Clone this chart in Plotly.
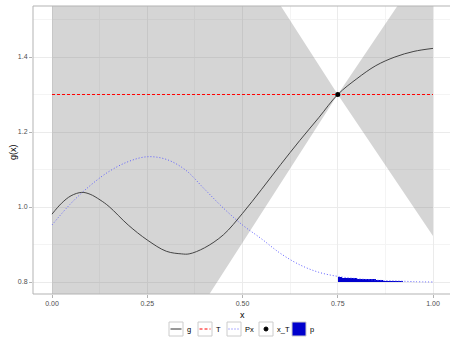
import plotly.graph_objects as go

# ---- data ----
g_x = [0.0, 0.025, 0.05, 0.078, 0.10, 0.126, 0.15, 0.20, 0.25, 0.30, 0.34, 0.36,
       0.40, 0.45, 0.50, 0.55, 0.60, 0.65, 0.70, 0.75, 0.80, 0.85, 0.90, 0.95, 1.0]
g_y = [0.981, 1.010, 1.030, 1.039, 1.034, 1.019, 1.001, 0.952, 0.912, 0.882, 0.875, 0.875,
       0.891, 0.926, 0.983, 1.047, 1.113, 1.177, 1.238, 1.300, 1.342, 1.377, 1.400, 1.415, 1.423]

px_x = [0.0, 0.05, 0.10, 0.15, 0.20, 0.25, 0.30, 0.35, 0.40, 0.45, 0.50,
        0.55, 0.60, 0.65, 0.70, 0.75, 0.80, 0.85, 0.90, 0.95, 1.0]
px_y = [0.952, 1.010, 1.057, 1.095, 1.121, 1.134, 1.127, 1.099, 1.048, 0.997, 0.952,
        0.915, 0.876, 0.846, 0.826, 0.815, 0.809, 0.805, 0.803, 0.801, 0.800]

T_value = 1.3
x_T = [0.75]
g_T = [1.3]

band_x = [0.0, 0.75, 1.0]
band_lo = [0.115, 1.30, 0.923]
band_hi = [2.485, 1.30, 1.677]

p_x = [0.75, 0.76, 0.77, 0.78, 0.79, 0.80, 0.81, 0.82, 0.83, 0.84, 0.85, 0.86,
       0.87, 0.88, 0.89, 0.90, 0.91]
p_h = [0.0135, 0.012, 0.011, 0.010, 0.0095, 0.009, 0.0085, 0.008, 0.0075, 0.007, 0.006, 0.005,
       0.002, 0.0018, 0.0016, 0.0014, 0.0012]
p_base = 0.8

x_ticks = [0.0, 0.25, 0.5, 0.75, 1.0]
x_labels = ["0.00", "0.25", "0.50", "0.75", "1.00"]
y_ticks = [0.8, 1.0, 1.2, 1.4]
y_labels = ["0.8", "1.0", "1.2", "1.4"]

legend_labels = ["g", "T", "Px", "x_T", "p"]

# ---- figure ----
W, H = 450, 337
L, R, T, B = 33, 0, 6, 43
pw, ph = W - L - R, H - T - B
FONT = "Liberation Sans, Arial"

def pxx(X):
    return (X - L) / pw

def pxy(Y):
    return (H - B - Y) / ph

fig = go.Figure()

fig.add_trace(go.Scatter(x=band_x, y=band_lo, mode="lines", line=dict(width=0),
                         hoverinfo="skip", showlegend=False))
fig.add_trace(go.Scatter(x=band_x, y=band_hi, mode="lines", line=dict(width=0),
                         fill="tonexty", fillcolor="rgba(128,128,128,0.33)",
                         hoverinfo="skip", showlegend=False))

fig.add_trace(go.Bar(x=p_x, y=p_h, base=p_base, width=0.01, offset=0,
                     marker=dict(color="#0000CD", line=dict(width=0)), showlegend=False))

fig.add_trace(go.Scatter(x=[0, 1], y=[T_value, T_value], mode="lines",
                         line=dict(color="#FF0000", width=1, dash="3px,2px"), showlegend=False))
fig.add_trace(go.Scatter(x=px_x, y=px_y, mode="lines", line_shape="spline",
                         line=dict(color="#6060FF", width=1, dash="1px,2px"), showlegend=False))
fig.add_trace(go.Scatter(x=g_x, y=g_y, mode="lines", line_shape="spline",
                         line=dict(color="#333333", width=0.9), showlegend=False))
fig.add_trace(go.Scatter(x=x_T, y=g_T, mode="markers",
                         marker=dict(color="black", size=5), showlegend=False))

axis_common = dict(showgrid=True, gridcolor="#ebebeb", gridwidth=1, zeroline=False,
                   ticks="outside", ticklen=3, tickcolor="#b3b3b3", tickwidth=1,
                   tickfont=dict(family=FONT, size=7, color="#4d4d4d"),
                   showline=False)

fig.update_xaxes(range=[-0.0499, (W - 52) / 381], tickvals=x_ticks, ticktext=x_labels,
                 minor=dict(tickvals=[0.125, 0.375, 0.625, 0.875], showgrid=True,
                            gridcolor="#f4f4f4", gridwidth=1, ticks=""),
                 **axis_common)
fig.update_yaxes(range=[0.768, 1.536], tickvals=y_ticks, ticktext=y_labels,
                 minor=dict(tickvals=[0.9, 1.1, 1.3, 1.5], showgrid=True,
                            gridcolor="#f4f4f4", gridwidth=1, ticks=""),
                 **axis_common)

shapes = [dict(type="rect", xref="paper", yref="paper", x0=0, x1=1.05, y0=0, y1=1,
               line=dict(color="#b3b3b3", width=1), fillcolor="rgba(0,0,0,0)", layer="above")]
annotations = [
    dict(text="x", xref="paper", yref="paper", x=pxx(242), y=pxy(315), showarrow=False,
         xanchor="center", yanchor="middle", font=dict(family=FONT, size=9, color="black")),
    dict(text="g(x)", xref="paper", yref="paper", x=pxx(13), y=pxy(152), showarrow=False, textangle=-90,
         xanchor="center", yanchor="middle", font=dict(family=FONT, size=9, color="black")),
]

# manual legend (ggplot-style keys)
key_left = [169, 198, 227, 259, 292]
key_w = 14
ky0, ky1 = 322, 336
for i, lab in enumerate(legend_labels):
    x0 = key_left[i]
    x1 = x0 + key_w
    shapes.append(dict(type="rect", xref="paper", yref="paper", x0=pxx(x0), x1=pxx(x1),
                       y0=pxy(ky1), y1=pxy(ky0), line=dict(color="#cccccc", width=1),
                       fillcolor="#0000CD" if lab == "p" else "white"))
    ym = pxy((ky0 + ky1) / 2)
    if lab == "g":
        shapes.append(dict(type="line", xref="paper", yref="paper", x0=pxx(x0 + 1.5), x1=pxx(x1 - 1.5),
                           y0=ym, y1=ym, line=dict(color="#333333", width=1)))
    elif lab == "T":
        shapes.append(dict(type="line", xref="paper", yref="paper", x0=pxx(x0 + 1.5), x1=pxx(x1 - 1.5),
                           y0=ym, y1=ym, line=dict(color="#FF0000", width=1, dash="3px,2px")))
    elif lab == "Px":
        shapes.append(dict(type="line", xref="paper", yref="paper", x0=pxx(x0 + 1.5), x1=pxx(x1 - 1.5),
                           y0=ym, y1=ym, line=dict(color="#6060FF", width=1, dash="1px,2px")))
    elif lab == "x_T":
        shapes.append(dict(type="circle", xref="paper", yref="paper", x0=pxx(x0 + 5), x1=pxx(x1 - 5),
                           y0=pxy((ky0 + ky1) / 2 + 2), y1=pxy((ky0 + ky1) / 2 - 2),
                           line=dict(color="black", width=1), fillcolor="black"))
    annotations.append(dict(text=lab, xref="paper", yref="paper", x=pxx(x1 + 2), y=ym,
                            showarrow=False, xanchor="left", yanchor="middle",
                            font=dict(family=FONT, size=7.5, color="black")))

fig.update_layout(width=W, height=H, margin=dict(l=L, r=R, t=T, b=B),
                  paper_bgcolor="white", plot_bgcolor="white", showlegend=False,
                  shapes=shapes, annotations=annotations, bargap=0)

fig.write_html("out.html")
